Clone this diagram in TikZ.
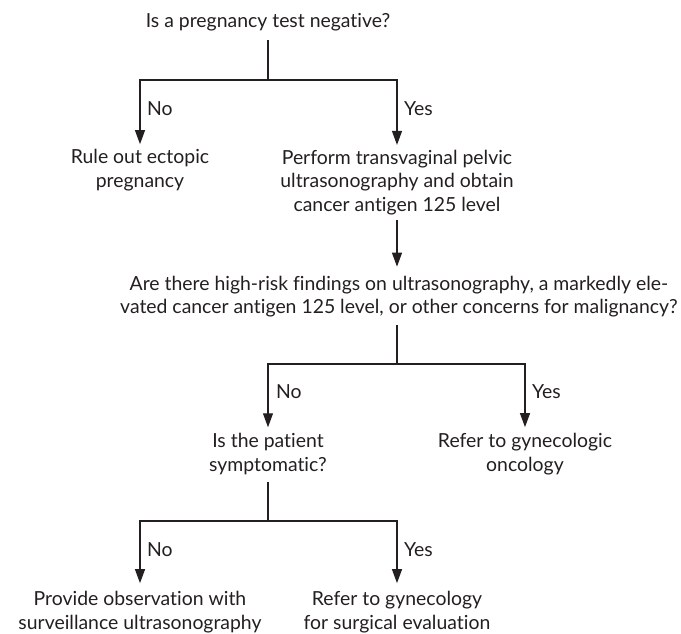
\documentclass[tikz,border=0pt]{standalone}
\usepackage{fontspec}
\setmainfont{Lato}[Ligatures={NoCommon}]
\usetikzlibrary{arrows.meta}
\definecolor{ink}{HTML}{231F20}
\begin{document}
\begin{tikzpicture}[x=1pt,y=-1pt,
  txt/.style={align=center,inner sep=0pt,text=ink,font=\fontsize{19.4}{23.5}\selectfont},
  lbl/.style={anchor=west,inner sep=0pt,text=ink,font=\fontsize{19.4}{23.5}\selectfont},
  conn/.style={draw=ink,line width=1.15pt},
  arr/.style={conn,-{Triangle[width=10pt,length=14pt]}}]
\useasboundingbox (0,0) rectangle (681,633);
% nodes
\node[txt] (q1) at (268,22) {Is a pregnancy test negative?};
\node[txt] (a1) at (140,170) {Rule out ectopic\\pregnancy};
\node[txt] (a2) at (397,182.5) {Perform transvaginal pelvic\\ultrasonography and obtain\\cancer antigen 125 level};
\node[txt] (q2) at (399,296.5) {Are there high-risk findings on ultrasonography, a markedly ele-\\vated cancer antigen 125 level, or other concerns for malignancy?};
\node[txt] (q3) at (268,454) {Is the patient\\symptomatic?};
\node[txt] (onc) at (525,454) {Refer to gynecologic\\oncology};
\node[txt] (po) at (140,612) {Provide observation with\\surveillance ultrasonography};
\node[txt] (rs) at (397,612) {Refer to gynecology\\for surgical evaluation};
% junctions
\coordinate (j1) at (268,80);
\coordinate (j2) at (397,364);
\coordinate (j3) at (268,521);
% labels
\node[lbl] (n1) at (147,109) {No};
\node[lbl] (y1) at (404,109) {Yes};
\node[lbl] (n2) at (276,392) {No};
\node[lbl] (y2) at (532,392) {Yes};
\node[lbl] (n3) at (147,550) {No};
\node[lbl] (y3) at (404,550) {Yes};
% connectors
\draw[conn,shorten <=9pt] (q1.south) -- (j1);
\draw[arr,shorten >=5pt] (j1) -| (a1.north);
\draw[arr,shorten >=5pt] (j1) -| (a2.north);
\draw[arr,shorten <=5pt,shorten >=9pt] (a2.south) -- (a2.south |- q2.north);
\draw[conn,shorten <=8pt] (q2.south -| j2) -- (j2);
\draw[arr,shorten >=6pt] (j2) -| (q3.north);
\draw[arr,shorten >=6pt] (j2) -| (onc.north);
\draw[conn,shorten <=7pt] (q3.south) -- (j3);
\draw[arr,shorten >=8pt] (j3) -| (po.north);
\draw[arr,shorten >=8pt] (j3) -| (rs.north);
\end{tikzpicture}
\end{document}
